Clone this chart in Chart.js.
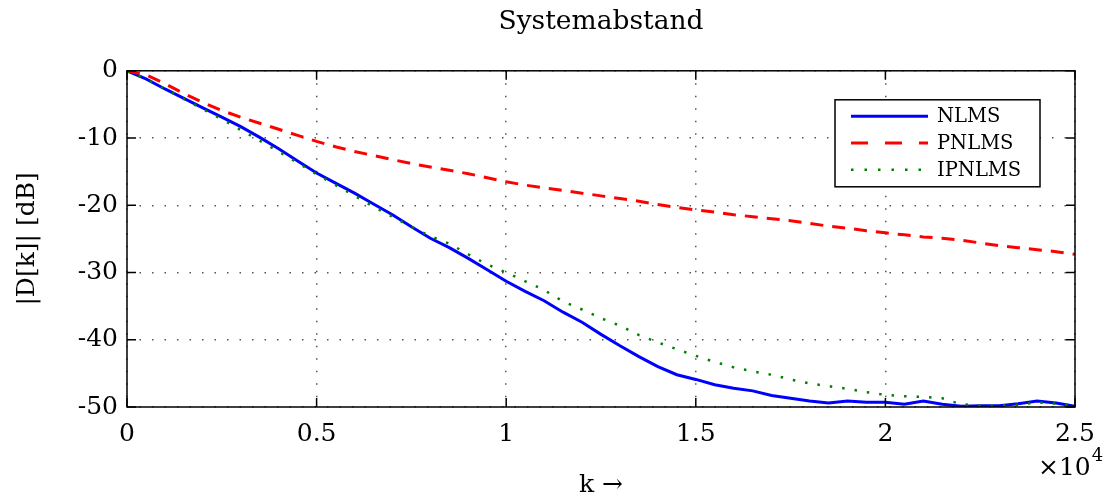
<!DOCTYPE html>
<html><head><meta charset="utf-8">
<script src="https://cdn.jsdelivr.net/npm/chart.js@4/dist/chart.umd.min.js"></script>
<style>html,body{margin:0;padding:0;background:#fff;}#wrap{width:1107px;height:500px;position:relative}</style>
</head><body><div id="wrap"><canvas id="c"></canvas></div>
<script>
const chartTitle = 'Systemabstand';
const xAxisTitle = 'k \u2192';
const yAxisTitle = '|D[k]| [dB]';
const xExponent = ['\u00d710', '4'];
const seriesNames = ['NLMS', 'PNLMS', 'IPNLMS'];

const kValues = [0,500,1000,1500,2000,2500,3000,3500,4000,4500,5000,5500,6000,6500,7000,7500,8000,8500,9000,9500,
  10000,10500,11000,11500,12000,12500,13000,13500,14000,14500,15000,15500,16000,16500,17000,17500,18000,18500,19000,19500,
  20000,20500,21000,21500,22000,22500,23000,23500,24000,24500,25000];

const nlms = [0,-1.2,-2.7,-4.1,-5.5,-6.9,-8.3,-9.9,-11.6,-13.4,-15.2,-16.7,-18.2,-19.8,-21.4,-23.2,-24.9,-26.3,-27.9,-29.6,
  -31.3,-32.8,-34.2,-35.9,-37.4,-39.2,-40.9,-42.5,-44.0,-45.2,-45.9,-46.7,-47.2,-47.6,-48.3,-48.7,-49.1,-49.4,-49.1,-49.3,
  -49.3,-49.6,-49.1,-49.6,-49.9,-49.8,-49.8,-49.5,-49.1,-49.4,-49.9];

const pnlms = [0,-0.6,-1.9,-3.4,-4.7,-5.9,-6.9,-7.8,-8.7,-9.6,-10.5,-11.3,-12.0,-12.6,-13.2,-13.8,-14.3,-14.8,-15.3,-15.9,
  -16.5,-17.0,-17.4,-17.8,-18.2,-18.6,-19.0,-19.4,-19.9,-20.3,-20.7,-21.0,-21.4,-21.7,-22.0,-22.3,-22.7,-23.1,-23.4,-23.8,
  -24.1,-24.4,-24.7,-24.9,-25.2,-25.6,-26.0,-26.3,-26.6,-26.9,-27.3];

const ipnlms = [0,-1.2,-2.7,-4.2,-5.7,-7.2,-8.8,-10.4,-12.0,-13.7,-15.4,-17.0,-18.6,-20.2,-21.7,-23.2,-24.6,-25.7,-27.3,-28.8,
  -30.0,-31.3,-32.6,-34.3,-35.5,-36.8,-37.9,-39.3,-40.4,-41.4,-42.4,-43.3,-44.1,-44.7,-45.2,-45.9,-46.5,-46.9,-47.3,-47.8,
  -48.2,-48.4,-48.5,-48.7,-49.6,-49.8,-49.8,-49.7,-49.3,-49.5,-49.8];

const xTickValues = [0, 5000, 10000, 15000, 20000, 25000];
const xTickLabels = ['0', '0.5', '1', '1.5', '2', '2.5'];
const yTickValues = [0, -10, -20, -30, -40, -50];
const yTickLabels = ['0', '-10', '-20', '-30', '-40', '-50'];

const FONT = '"DejaVu Serif", serif';
Chart.defaults.font.family = FONT;
Chart.defaults.color = '#000';

function pts(arr) { return kValues.map((k, i) => ({x: k, y: arr[i]})); }

const framePlugin = {
  id: 'framePlugin',
  afterLayout(chart) {
    const t = chart.titleBlock, a = chart.chartArea;
    if (t) { t.left = a.left; t.right = a.right; t.width = a.right - a.left; }
  },
  afterDatasetsDraw(chart) {
    const {ctx, chartArea: a, scales: {x, y}} = chart;
    ctx.save();
    ctx.strokeStyle = '#000';
    ctx.lineWidth = 1.5;
    const L = 9;
    ctx.beginPath();
    x.ticks.forEach(t => {
      const px = x.getPixelForValue(t.value);
      ctx.moveTo(px, a.bottom); ctx.lineTo(px, a.bottom - L);
      ctx.moveTo(px, a.top); ctx.lineTo(px, a.top + L);
    });
    y.ticks.forEach(t => {
      const py = y.getPixelForValue(t.value);
      ctx.moveTo(a.left, py); ctx.lineTo(a.left + L, py);
      ctx.moveTo(a.right, py); ctx.lineTo(a.right - L, py);
    });
    ctx.stroke();
    ctx.strokeRect(a.left, a.top, a.right - a.left, a.bottom - a.top);
    ctx.restore();
  },
  afterDraw(chart) {
    const {ctx, chartArea: a} = chart;
    ctx.save();
    ctx.fillStyle = '#000';
    ctx.textAlign = 'left';
    ctx.textBaseline = 'alphabetic';
    ctx.font = '25px ' + FONT;
    const ex = a.right - 37;
    ctx.fillText(xExponent[0], ex, 475);
    const w = ctx.measureText(xExponent[0]).width;
    ctx.font = '18px ' + FONT;
    ctx.fillText(xExponent[1], ex + w + 1, 461);
    const bw = 205, bh = 87;
    const bx = a.right - 240, by = a.top + 29;
    ctx.fillStyle = '#fff';
    ctx.fillRect(bx, by, bw, bh);
    ctx.strokeStyle = '#000';
    ctx.lineWidth = 1.5;
    ctx.strokeRect(bx, by, bw, bh);
    ctx.font = '19.5px ' + FONT;
    ctx.textBaseline = 'middle';
    chart.data.datasets.forEach((ds, i) => {
      const yy = by + 16.5 + i * 26.7;
      ctx.beginPath();
      ctx.strokeStyle = ds.borderColor;
      ctx.lineWidth = ds.borderWidth;
      ctx.setLineDash(i === 1 ? [17, 17] : i === 2 ? [2.5, 11] : []);
      ctx.moveTo(bx + 16, yy);
      ctx.lineTo(bx + 93, yy);
      ctx.stroke();
      ctx.setLineDash([]);
      ctx.fillStyle = '#000';
      ctx.fillText(ds.label, bx + 102, yy + 1);
    });
    ctx.restore();
  }
};

new Chart(document.getElementById('c'), {
  type: 'line',
  data: {
    datasets: [
      {label: seriesNames[0], data: pts(nlms), borderColor: '#0000ff', borderWidth: 3, pointRadius: 0, tension: 0, order: 3},
      {label: seriesNames[1], data: pts(pnlms), borderColor: '#ff0000', borderWidth: 3, borderDash: [13, 9], pointRadius: 0, tension: 0, order: 2},
      {label: seriesNames[2], data: pts(ipnlms), borderColor: '#008000', borderWidth: 2.5, borderDash: [2.5, 10], pointRadius: 0, tension: 0, order: 1}
    ]
  },
  options: {
    responsive: true,
    maintainAspectRatio: false,
    animation: false,
    devicePixelRatio: 1,
    layout: {padding: {left: 0, right: 32, top: 0, bottom: 0}},
    plugins: {
      legend: {display: false},
      tooltip: {enabled: false},
      title: {
        display: true, text: chartTitle, color: '#000',
        font: {family: FONT, size: 26.5, weight: 'normal', lineHeight: 1.2},
        padding: {top: 6, bottom: 33}
      }
    },
    scales: {
      x: {
        type: 'linear', min: 0, max: 25000,
        afterFit(s) { s.height = 93; },
        afterBuildTicks(s) { s.ticks = xTickValues.map(v => ({value: v})); },
        ticks: {
          font: {size: 25}, color: '#000', padding: 12, maxRotation: 0, autoSkip: false,
          callback: (v) => { const i = xTickValues.indexOf(v); return i >= 0 ? xTickLabels[i] : ''; }
        },
        grid: {color: '#555', lineWidth: 1.5, drawTicks: false},
        border: {display: false, dash: [1.5, 11]},
        title: {display: true, text: xAxisTitle, color: '#000', font: {size: 25, lineHeight: 1.2}, padding: {top: 0, bottom: 0}}
      },
      y: {
        type: 'linear', min: -50, max: 0,
        afterFit(s) { s.width = 127; },
        afterBuildTicks(s) { s.ticks = yTickValues.map(v => ({value: v})); },
        ticks: {
          font: {size: 25}, color: '#000', padding: 9, autoSkip: false,
          callback: (v) => { const i = yTickValues.indexOf(v); return i >= 0 ? yTickLabels[i] : ''; }
        },
        grid: {color: '#555', lineWidth: 1.5, drawTicks: false},
        border: {display: false, dash: [1.5, 11]},
        title: {display: true, text: yAxisTitle, color: '#000', font: {size: 25, lineHeight: 1.2}, padding: {top: 12, bottom: 0}}
      }
    }
  },
  plugins: [framePlugin]
});
</script></body></html>
